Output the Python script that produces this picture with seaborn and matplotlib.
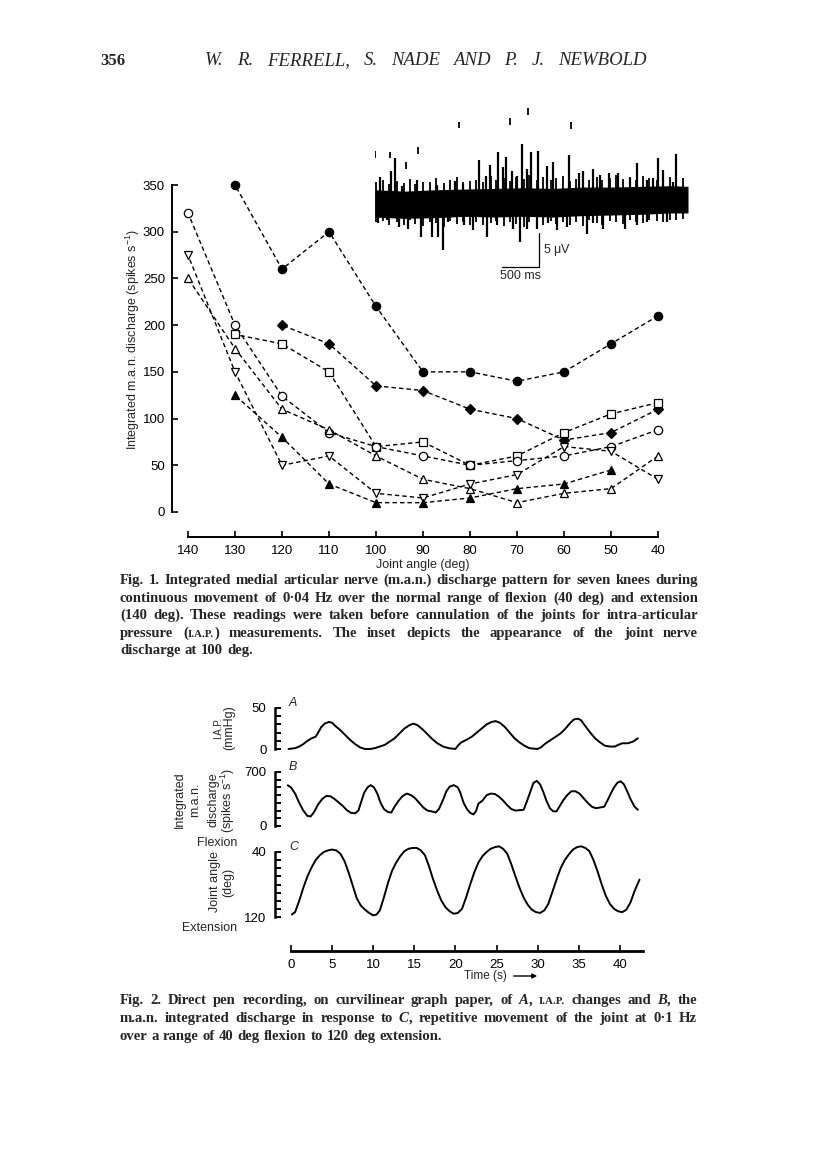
import re
import numpy as np
import pandas as pd
import matplotlib
matplotlib.use('Agg')
import matplotlib.pyplot as plt
import seaborn as sns

W, H = 816, 1155
nan = np.nan

# ---- Fig. 1: integrated m.a.n. discharge vs joint angle, seven knees ----
ANGLES = [140, 130, 120, 110, 100, 90, 80, 70, 60, 50, 40]
knee_filled_circle = [nan, 350, 260, 300, 220, 150, 150, 140, 150, 180, 210]
knee_filled_diamond = [nan, nan, 200, 180, 135, 130, 110, 100, 77, 85, 110]
knee_open_square = [nan, 190, 180, 150, 70, 75, 50, 60, 85, 105, 117]
knee_open_circle = [320, 200, 124, 85, 70, 60, 50, 55, 60, 70, 88]
knee_open_up = [250, 175, 110, 88, 60, 35, 25, 10, 20, 25, 60]
knee_open_down = [275, 150, 50, 60, 20, 15, 30, 40, 70, 65, 35]
knee_filled_up = [nan, 125, 80, 30, 10, 10, 15, 25, 30, 45, nan]
ANGLE_TICKS = [140, 130, 120, 110, 100, 90, 80, 70, 60, 50, 40]
RATE_TICKS = [0, 50, 100, 150, 200, 250, 300, 350]

# inset: raw nerve discharge at 100 deg (ms, uV)
band_t = [0, 400, 800, 1200, 1600, 2000, 2400, 2800, 3200, 3600, 4000, 4226]
band_hi = [1.8, 1.6, 1.8, 1.9, 2.0, 2.1, 2.0, 2.2, 2.2, 2.3, 2.4, 2.3]
band_lo = [-2.2, -2.4, -2.3, -2.1, -2.2, -2.1, -2.2, -2.0, -1.9, -1.8, -1.6, -1.6]
up_t = [68, 212, 270, 360, 563, 833, 1080, 1193, 1404, 1499, 1553, 1656, 1724,
        1764, 1845, 1913, 1989, 2048, 2106, 2205, 2318, 2408, 2624, 2754, 2813,
        2948, 3038, 3164, 3276, 3443, 3533, 3668, 3758, 3816, 3893, 4028, 4059]
up_v = [3.6, 4.6, 6.4, 2.3, 3.2, 2.5, 3.1, 2.7, 6.2, 3.8, 5.4, 7.3, 5.1,
        6.6, 4.5, 3.8, 8.5, 4.8, 7.3, 7.5, 5.3, 5.9, 6.9, 4.2, 4.5,
        4.8, 4.0, 4.3, 4.3, 3.5, 5.7, 3.2, 3.5, 6.5, 4.7, 3.0, 7.0]
down_t = [45, 158, 329, 450, 621, 765, 846, 914, 990, 1202, 1328, 1508, 1643,
          1868, 1958, 2048, 2183, 2340, 2453, 2588, 2858, 2948, 3083, 3375,
          3533, 3668, 3938]
down_v = [-3.1, -2.6, -3.7, -3.9, -5.2, -5.1, -5.1, -7.1, -2.9, -3.4, -4.1,
          -5.1, -3.4, -4.0, -5.8, -4.0, -3.9, -3.1, -4.1, -3.6, -4.7, -3.1,
          -3.9, -4.0, -3.4, -2.9, -2.9]
edge_t = [20, 105, 190, 300, 385, 470, 545, 650, 745, 820, 925, 1010, 1110,
          1185, 1280, 1365, 1455, 1560, 1630, 1735, 1820, 1900, 2005, 2080,
          2185, 2265, 2370, 2445, 2545, 2630, 2715, 2815, 2895, 2995, 3070,
          3175, 3255, 3350, 3445, 3520, 3625, 3705, 3805, 3885, 3985, 4065, 4165]
edge_up = [2.9, 3.3, 2.6, 3.1, 2.8, 3.4, 2.7, 3.0, 2.9, 3.5, 2.8, 3.2, 3.6,
           2.9, 3.1, 3.3, 3.0, 3.8, 3.2, 3.5, 3.1, 3.7, 3.4, 3.9, 3.2, 3.6,
           3.3, 3.5, 3.8, 3.1, 3.4, 3.6, 3.2, 3.7, 3.3, 3.5, 3.9, 3.4, 3.6,
           3.2, 3.8, 3.5, 3.3, 3.7, 3.6, 3.4, 3.5]
edge_dn = [-3.0, -2.8, -3.3, -2.9, -3.4, -2.7, -3.2, -3.5, -2.9, -3.1, -3.6,
           -2.8, -3.2, -3.0, -3.4, -2.9, -3.3, -3.1, -2.8, -3.5, -3.0, -3.2,
           -3.6, -2.9, -3.1, -3.4, -2.8, -3.2, -3.0, -3.3, -2.9, -3.5, -2.7,
           -3.1, -3.3, -2.8, -3.0, -3.2, -2.6, -2.9, -3.1, -2.7, -2.8, -3.0,
           -2.6, -2.7, -2.5]
dot_t = [0, 203, 414, 585, 1130, 1827, 2061, 2642]
dot_v = [7.5, 7.4, 5.9, 8.1, 11.8, 12.3, 13.8, 11.7]
SCALE_MS = 500
SCALE_UV = 5

# ---- Fig. 2: pen recording vs time ----
iap_t = [-0.3, 0.5, 1.0, 1.5, 2.0, 2.5, 3.0, 3.3, 3.7, 4.1, 4.6, 5.0, 5.4,
         6.0, 6.6, 7.2, 7.8, 8.4, 9.0, 9.6, 10.2, 10.8, 11.4, 12.0, 12.6,
         13.2, 13.8, 14.4, 14.9, 15.4, 16.0, 16.6, 17.2, 17.8, 18.5, 19.2,
         20.0, 20.3, 20.7, 21.3, 22.0, 22.6, 23.2, 23.8, 24.4, 24.9, 25.4,
         26.0, 26.6, 27.2, 27.8, 28.4, 29.0, 30.0, 30.4, 31.0, 31.6, 32.2,
         32.8, 33.4, 33.9, 34.4, 34.9, 35.3, 35.8, 36.4, 37.0, 37.6, 38.2,
         38.8, 39.4, 39.8, 40.3, 41.0, 41.6, 42.2]
iap_mmhg = [0, 1, 3, 6, 10, 13, 15, 20, 27, 31, 33, 32, 28, 23, 17, 11, 6, 2,
            0, 0, 1, 3, 5, 9, 13, 19, 25, 29, 31, 29, 24, 18, 12, 7, 3, 1,
            0, 4, 8, 11, 15, 20, 25, 30, 33, 34, 32, 27, 20, 13, 8, 4, 1, 0,
            2, 7, 11, 15, 19, 25, 31, 36, 37, 35, 28, 20, 13, 8, 4, 3, 3, 5,
            7, 7, 9, 13]
man_t = [-0.4, 0.0, 0.5, 1.0, 1.5, 2.0, 2.4, 2.8, 3.3, 3.8, 4.3, 4.8, 5.3,
         5.8, 6.3, 6.8, 7.3, 7.8, 8.2, 8.5, 8.9, 9.3, 9.7, 10.1, 10.5, 10.9,
         11.3, 11.8, 12.2, 12.6, 13.1, 13.6, 14.1, 14.6, 15.1, 15.6, 16.1,
         16.6, 17.1, 17.6, 18.0, 18.5, 18.9, 19.3, 19.8, 20.3, 20.6, 21.0,
         21.4, 21.8, 22.2, 22.5, 22.8, 23.3, 23.8, 24.3, 24.8, 25.3, 25.8,
         26.3, 26.8, 27.3, 27.8, 28.3, 28.7, 29.1, 29.5, 29.9, 30.3, 30.7,
         31.1, 31.5, 31.9, 32.3, 32.7, 33.1, 33.6, 34.1, 34.6, 35.1, 35.6,
         36.1, 36.6, 37.1, 37.6, 38.1, 38.5, 38.9, 39.3, 39.7, 40.1, 40.5,
         40.9, 41.3, 41.8, 42.2]
man_rate = [528, 500, 420, 300, 200, 130, 125, 180, 280, 350, 390, 385, 350,
            305, 260, 205, 170, 165, 200, 300, 430, 500, 530, 500, 420, 300,
            220, 180, 175, 250, 330, 390, 420, 400, 360, 300, 240, 200, 190,
            175, 220, 340, 450, 510, 530, 500, 430, 300, 220, 170, 150, 190,
            290, 330, 400, 420, 415, 380, 330, 270, 220, 200, 205, 210, 320,
            440, 560, 585, 540, 440, 320, 230, 190, 190, 260, 330, 400, 450,
            450, 420, 360, 300, 250, 230, 240, 250, 330, 420, 500, 560, 580,
            540, 450, 350, 250, 210]
ang_t = [0.1, 0.5, 1.0, 1.5, 2.0, 2.5, 3.0, 3.5, 4.0, 4.5, 5.0, 5.5, 6.0, 6.5,
         7.0, 7.5, 8.0, 8.5, 9.0, 9.5, 10.0, 10.4, 10.8, 11.3, 11.8, 12.3,
         12.8, 13.3, 13.8, 14.3, 14.8, 15.3, 15.8, 16.3, 16.8, 17.3, 17.8,
         18.3, 18.8, 19.3, 19.8, 20.3, 20.8, 21.3, 21.8, 22.3, 22.8, 23.3,
         23.8, 24.3, 24.8, 25.3, 25.8, 26.3, 26.8, 27.3, 27.8, 28.3, 28.8,
         29.3, 29.8, 30.3, 30.8, 31.3, 31.8, 32.3, 32.8, 33.3, 33.8, 34.3,
         34.8, 35.3, 35.8, 36.3, 36.8, 37.3, 37.8, 38.3, 38.8, 39.3, 39.8,
         40.3, 40.8, 41.3, 41.8, 42.4]
ang_deg = [117, 114, 100, 84, 70, 59, 50, 44, 40, 38, 37, 38, 42, 51, 65, 81,
           97, 106, 111, 115, 118, 117, 112, 96, 78, 63, 53, 45, 39, 36, 35,
           35, 38, 44, 58, 74, 88, 100, 108, 113, 116, 115, 110, 96, 80, 65,
           53, 45, 40, 36, 34, 33, 36, 42, 55, 70, 84, 96, 105, 111, 114, 115,
           112, 104, 89, 74, 60, 50, 43, 37, 34, 33, 35, 39, 50, 64, 80, 94,
           104, 110, 113, 114, 111, 102, 88, 74]
TIME_TICKS = [0, 5, 10, 15, 20, 25, 30, 35, 40]

sns.set_style('ticks')
plt.rcParams['font.family'] = ['Liberation Sans', 'DejaVu Sans']
plt.rcParams['mathtext.default'] = 'regular'
SANS = 9.5


def box(x0, y0, x1, y1):
    return [x0 / W, 1 - y1 / H, (x1 - x0) / W, (y1 - y0) / H]


def pt(px):
    return px * 72 / 100


fig = plt.figure(figsize=(W / 100, H / 100), dpi=100)
fig.patch.set_facecolor('white')
renderer = fig.canvas.get_renderer()


def paragraph(lines, x0, x1, y0, step, size, style='normal', weight='bold',
              justify_last=False):
    """Justified serif text, small caps in {..}, italics in *..*"""
    for i, line in enumerate(lines):
        y = 1 - (y0 + i * step) / H
        items = []
        for word in line.split(' '):
            arts = []
            for p in re.split(r'(\{[^}]*\}|\*[^*]*\*)', word):
                if not p:
                    continue
                kw = dict(size=size, weight=weight, style=style,
                          family='Liberation Serif')
                if p.startswith('{'):
                    p = p[1:-1]
                    kw['size'] = size * 0.75
                elif p.startswith('*'):
                    p = p[1:-1]
                    kw['style'] = 'italic'
                arts.append(fig.text(0, y, p, va='baseline', **kw))
            items.append(arts)
        widths = [[a.get_window_extent(renderer).width for a in arts] for arts in items]
        total = sum(sum(ws) for ws in widths)
        last = i == len(lines) - 1 and not justify_last
        gap = size * 0.27 * 100 / 72 if last else (x1 - x0 - total) / max(len(items) - 1, 1)
        x = x0
        for arts, ws in zip(items, widths):
            for a, w in zip(arts, ws):
                a.set_x(x / W)
                x += w
            x += gap


# header
fig.text(100 / W, 1 - 65 / H, '356', family='Liberation Serif', weight='bold', size=12)
paragraph(['W. R. FERRELL, S. NADE AND P. J. NEWBOLD'], 205, 647, 65, 0, 13.5,
          style='italic', weight='normal', justify_last=True)

# ---- Fig. 1 ----
rows = []
series = [('filled_circle', knee_filled_circle), ('filled_diamond', knee_filled_diamond),
          ('open_square', knee_open_square), ('open_circle', knee_open_circle),
          ('open_up', knee_open_up), ('open_down', knee_open_down),
          ('filled_up', knee_filled_up)]
for name, vals in series:
    for a, v in zip(ANGLES, vals):
        if not np.isnan(v):
            rows.append({'knee': name, 'angle': a, 'rate': v})
df1 = pd.DataFrame(rows)

styles = {
    'filled_circle': dict(marker='o', mfc='black', ms=6),
    'filled_diamond': dict(marker='D', mfc='black', ms=5),
    'open_square': dict(marker='s', mfc='white', ms=6),
    'open_circle': dict(marker='o', mfc='white', ms=6),
    'open_up': dict(marker='^', mfc='white', ms=5.5),
    'open_down': dict(marker='v', mfc='white', ms=5.5),
    'filled_up': dict(marker='^', mfc='black', ms=5.5),
}

ax1 = fig.add_axes(box(188, 185, 658, 512))
for name, grp in df1.groupby('knee', sort=False):
    st = styles[name]
    sns.lineplot(data=grp, x='angle', y='rate', ax=ax1, color='black',
                 linestyle=(0, (3.2, 2.2)), lw=1.0, marker=st['marker'],
                 markerfacecolor=st['mfc'], markeredgecolor='black',
                 markeredgewidth=0.9, markersize=st['ms'], clip_on=False)
ax1.set_xlim(140, 40)
ax1.set_ylim(0, 350)
ax1.set_facecolor('none')
for s in ['top', 'right']:
    ax1.spines[s].set_visible(False)
ax1.spines['left'].set_position(('outward', pt(16)))
ax1.spines['bottom'].set_position(('outward', pt(25)))
ax1.spines['left'].set_bounds(0, 350)
ax1.spines['bottom'].set_bounds(140, 40)
for s in ['left', 'bottom']:
    ax1.spines[s].set_linewidth(1.4)
    ax1.spines[s].set_color('black')
ax1.set_xticks(ANGLE_TICKS)
ax1.set_yticks(RATE_TICKS)
ax1.tick_params(axis='both', direction='in', length=4, width=1.2, colors='black',
                labelsize=SANS)
ax1.tick_params(axis='x', pad=6)
ax1.tick_params(axis='y', pad=5)
ax1.set_xlabel('Joint angle (deg)', size=SANS - 0.5, labelpad=1)
ax1.set_ylabel('')
fig.text(133 / W, 1 - 340 / H, 'Integrated m.a.n. discharge (spikes s$^{-1}$)',
         rotation=90, ha='center', va='center', size=SANS - 0.5)

# inset trace
axi = fig.add_axes(box(375, 95, 688, 275))
axi.set_xlim(0, 4226)
axi.set_ylim(-10.7, 15.7)
axi.axis('off')
axi.fill_between(band_t, band_lo, band_hi, color='black', lw=0)
axi.vlines(edge_t, 0, edge_up, color='black', lw=1.3)
axi.vlines(edge_t, edge_dn, 0, color='black', lw=1.3)
axi.vlines(up_t, 0, up_v, color='black', lw=1.6)
axi.vlines(down_t, down_v, 0, color='black', lw=1.6)
axi.vlines(dot_t, np.array(dot_v) - 1.0, dot_v, color='black', lw=1.3)
bar_t = 2214
bar_v = -9.6
axi.plot([bar_t - SCALE_MS, bar_t, bar_t], [bar_v, bar_v, bar_v + SCALE_UV],
         color='black', lw=0.9)
axi.text(bar_t + 50, bar_v + SCALE_UV / 2, '5 $\\mu$V', ha='left', va='center', size=SANS - 0.5)
axi.text(bar_t - SCALE_MS / 2, bar_v - 0.3, '500 ms', ha='center', va='top', size=SANS - 0.5)

# caption 1
cap1 = [
    'Fig. 1. Integrated medial articular nerve (m.a.n.) discharge pattern for seven knees during',
    'continuous movement of 0\u00b704 Hz over the normal range of flexion (40 deg) and extension',
    '(140 deg). These readings were taken before cannulation of the joints for intra-articular',
    'pressure ({I.A.P.}) measurements. The inset depicts the appearance of the joint nerve',
    'discharge at 100 deg.',
]
paragraph(cap1, 120, 698, 584, 17.6, 10.6)

# ---- Fig. 2 ----
t_left, t_right = -1.95, 42.8
x_left = 291 + t_left * 41.1 / 5
x_right = 291 + t_right * 41.1 / 5


def trace_axes(y_top, y_bot):
    ax = fig.add_axes(box(x_left, y_top, x_right, y_bot))
    ax.set_facecolor('none')
    for s in ['top', 'right', 'bottom']:
        ax.spines[s].set_visible(False)
    ax.spines['left'].set_linewidth(1.8)
    ax.spines['left'].set_color('black')
    ax.set_xlim(t_left, t_right)
    ax.tick_params(axis='y', which='both', direction='in', length=4, width=1.4,
                   colors='black', labelsize=SANS, pad=6)
    return ax


ax_a = trace_axes(708, 749)
sns.lineplot(x=iap_t, y=iap_mmhg, ax=ax_a, color='black', lw=1.4, sort=False, clip_on=False)
ax_a.set_ylim(0, 50)
ax_a.set_yticks([0, 50])
ax_a.set_yticks([10, 20, 30, 40], minor=True)
ax_a.set_xticks([])

ax_b = trace_axes(772, 826)
sns.lineplot(x=man_t, y=man_rate, ax=ax_b, color='black', lw=1.4, sort=False, clip_on=False)
ax_b.set_ylim(0, 700)
ax_b.set_yticks([0, 700])
ax_b.set_yticks([100, 200, 300, 400, 500, 600], minor=True)
ax_b.set_xticks([])

ax_c = trace_axes(852, 917)
sns.lineplot(x=ang_t, y=ang_deg, ax=ax_c, color='black', lw=1.4, sort=False, clip_on=False)
ax_c.set_ylim(120, 40)
ax_c.set_yticks([40, 120])
ax_c.set_yticks([50, 60, 70, 80, 90, 100, 110], minor=True)
ax_c.spines['bottom'].set_visible(True)
ax_c.spines['bottom'].set_position(('outward', pt(34)))
ax_c.spines['bottom'].set_bounds(0, t_right)
ax_c.spines['bottom'].set_linewidth(2.0)
ax_c.spines['bottom'].set_color('black')
ax_c.set_xticks(TIME_TICKS)
ax_c.tick_params(axis='x', direction='in', length=4, width=1.2, colors='black',
                 labelsize=SANS, pad=6)
for ax in (ax_a, ax_b, ax_c):
    ax.set_xlabel('')
    ax.set_ylabel('')

for lab, y in [('A', 703), ('B', 767), ('C', 847)]:
    fig.text(289 / W, 1 - y / H, lab, style='italic', size=SANS - 0.5, va='center')

fig.text(218 / W, 1 - 728 / H, 'I.A.P.', rotation=90, ha='center', va='center', size=SANS - 2.5)
fig.text(229 / W, 1 - 728 / H, '(mmHg)', rotation=90, ha='center', va='center', size=SANS - 0.5)
for x, s in [(180, 'Integrated'), (195, 'm.a.n.'), (213, 'discharge'), (228, '(spikes s$^{-1}$)')]:
    fig.text(x / W, 1 - 800 / H, s, rotation=90, ha='center', va='center', size=SANS - 0.5)
fig.text(237 / W, 1 - 843 / H, 'Flexion', ha='right', va='center', size=SANS - 0.5)
fig.text(237 / W, 1 - 928 / H, 'Extension', ha='right', va='center', size=SANS - 0.5)
fig.text(215 / W, 1 - 882 / H, 'Joint angle', rotation=90, ha='center', va='center', size=SANS - 0.5)
fig.text(228 / W, 1 - 882 / H, '(deg)', rotation=90, ha='center', va='center', size=SANS - 0.5)

fig.text(485 / W, 1 - 976 / H, 'Time (s)', ha='center', va='center', size=SANS - 1)
fig.add_artist(matplotlib.patches.FancyArrowPatch(
    (511 / W, 1 - 976 / H), (540 / W, 1 - 976 / H), transform=fig.transFigure,
    arrowstyle='-|>', mutation_scale=7, lw=1.0, color='black'))

cap2 = [
    'Fig. 2. Direct pen recording, on curvilinear graph paper, of *A*, {I.A.P.} changes and *B*, the',
    'm.a.n. integrated discharge in response to *C*, repetitive movement of the joint at 0\u00b71 Hz',
    'over a range of 40 deg flexion to 120 deg extension.',
]
paragraph(cap2, 120, 697, 1004, 17.8, 10.6)

fig.savefig('out.png', dpi=100, facecolor='white')
